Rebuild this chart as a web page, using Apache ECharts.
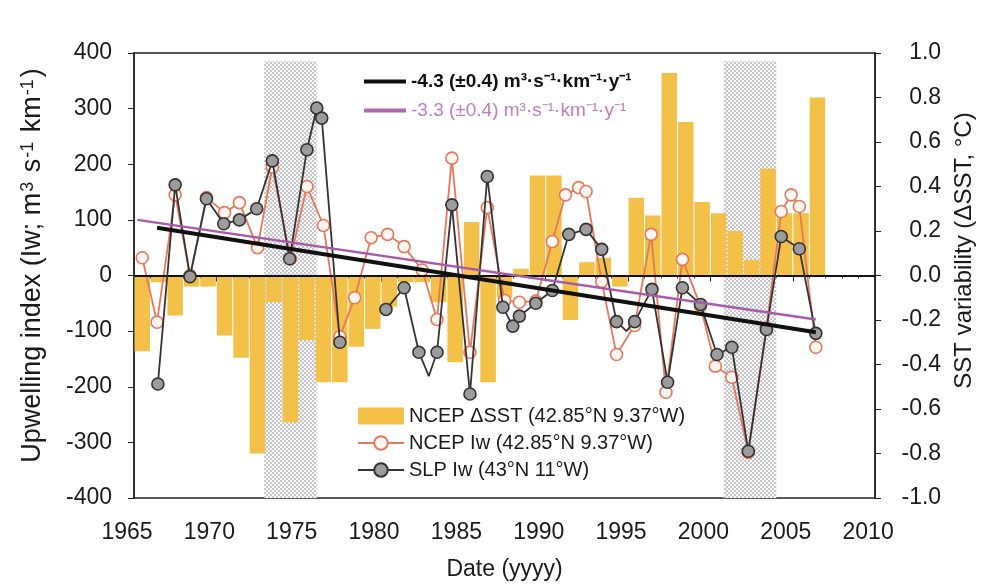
<!DOCTYPE html>
<html><head><meta charset="utf-8">
<script src="https://cdn.jsdelivr.net/npm/echarts@6/dist/echarts.min.js"></script>
<style>html,body{margin:0;padding:0;background:#fff}#c{width:984px;height:586px}</style>
</head><body><div id="c"></div>
<script>
// ---- data ----
const sstYears = [1965.5,1966.5,1967.5,1968.5,1969.5,1970.5,1971.5,1972.5,1973.5,1974.5,1975.5,1976.5,1977.5,1978.5,1979.5,1980.5,1981.5,1982.5,1983.5,1984.5,1985.5,1986.5,1987.5,1988.5,1989.5,1990.5,1991.5,1992.5,1993.5,1994.5,1995.5,1996.5,1997.5,1998.5,1999.5,2000.5,2001.5,2002.5,2003.5,2004.5,2005.5,2006.5];
const sstValues = [-0.34,-0.03,-0.18,-0.05,-0.05,-0.27,-0.37,-0.80,-0.12,-0.66,-0.29,-0.48,-0.48,-0.32,-0.24,-0.14,-0.03,-0.03,-0.12,-0.39,0.24,-0.48,-0.10,0.03,0.45,0.45,-0.20,0.06,0.08,-0.05,0.35,0.27,0.91,0.69,0.33,0.28,0.20,0.07,0.48,0.28,0.28,0.80];

const ncepYears = [1965.5,1966.4,1967.5,1968.4,1969.4,1970.5,1971.4,1972.5,1973.4,1974.5,1975.5,1976.5,1977.5,1978.4,1979.4,1980.4,1981.4,1982.5,1983.4,1984.3,1985.4,1986.45,1987.5,1988.4,1989.4,1990.4,1991.2,1992.0,1992.45,1993.4,1994.3,1995.4,1996.4,1997.3,1998.3,1999.4,2000.3,2001.3,2002.3,2003.4,2004.3,2004.9,2005.4,2006.4];
const ncepValues = [32,-84,145,0,140,113,131,50,195,30,160,90,-110,-40,68,74,52,10,-79,211,-138,122,-45,-48,-46,61,145,158,151,-11,-142,-90,74,-210,29,-55,-163,-183,-318,-95,115,145,124,-129];

const slpYears = [1966.45,1967.5,1968.4,1969.4,1970.45,1971.4,1972.45,1973.4,1974.45,1975.5,1976.1,1976.4,1977.5,1979.0,1980.3,1981.4,1982.3,1982.9,1983.4,1984.3,1985.4,1986.45,1987.4,1988.0,1988.4,1989.4,1990.4,1991.4,1992.45,1993.4,1994.3,1994.9,1995.4,1996.45,1997.4,1998.3,1999.4,2000.4,2001.3,2002.3,2003.4,2004.3,2005.4,2006.4];
const slpValues = [-195,163,-2,138,93,100,120,206,30,226,301,283,-120,null,-61,-22,-138,-181,-138,127,-213,178,-57,-91,-73,-50,-27,74,83,47,-83,-100,-83,-25,-192,-22,-52,-142,-129,-316,-97,70,48,-104];
const slpMarker = [1,1,1,1,1,1,1,1,1,1,1,1,1,0,1,1,1,0,1,1,1,1,1,1,1,1,1,1,1,1,1,0,1,1,1,1,1,1,1,1,1,1,1,1];

const trendSlpX = [1966.4, 2006.4];
const trendSlpY = [86, -102];
const trendNcepX = [1965.2, 2006.4];
const trendNcepY = [100, -79];

const shadeRanges = [[1972.9, 1976.1], [2000.8, 2004.0]];

const xMin = 1965, xMax = 2010, xStep = 5;
const yLeftMin = -400, yLeftMax = 400, yLeftStep = 100;
const yRightMin = -1, yRightMax = 1, yRightStep = 0.2;

const nameSst = 'NCEP \u0394SST (42.85\u00b0N 9.37\u00b0W)';
const nameNcep = 'NCEP Iw (42.85\u00b0N 9.37\u00b0W)';
const nameSlp = 'SLP Iw (43\u00b0N 11\u00b0W)';
const nameTrendSlp = '-4.3 (\u00b10.4) m\u00b3\u00b7s\u207b\u00b9\u00b7km\u207b\u00b9\u00b7y\u207b\u00b9';
const nameTrendNcep = '-3.3 (\u00b10.4) m\u00b3\u00b7s\u207b\u00b9\u00b7km\u207b\u00b9\u00b7y\u207b\u00b9';

// ---- styles ----
function makeHatch() {
  const c = document.createElement('canvas');
  c.width = 4; c.height = 4;
  const g = c.getContext('2d');
  g.fillStyle = '#f8f8f8'; g.fillRect(0, 0, 4, 4);
  g.fillStyle = '#c6c6ca';
  g.fillRect(0, 0, 2, 2); g.fillRect(2, 2, 2, 2);
  return c;
}
const hatch = { image: makeHatch(), repeat: 'repeat' };
const FONT = 'Liberation Sans, Arial, sans-serif';
const tick = { fontFamily: FONT, fontSize: 23, color: '#1a1a1a' };

const chart = echarts.init(document.getElementById('c'), null, { renderer: 'canvas' });
chart.setOption({
  animation: false,
  backgroundColor: '#fff',
  grid: { left: 134, right: 107, top: 53, bottom: 87, show: true, borderColor: '#222', borderWidth: 1.5, backgroundColor: 'transparent' },
  legend: [
    { data: [{ name: nameTrendSlp, textStyle: { color: '#111', fontWeight: 'bold' } }, { name: nameTrendNcep, textStyle: { color: '#c07cc0' } }],
      icon: 'rect', left: 359, top: 67, orient: 'vertical', itemWidth: 42, itemHeight: 4, itemGap: 10, selectedMode: false,
      textStyle: { fontFamily: FONT, fontSize: 19 } },
    { data: [{ name: nameSst, icon: 'rect' }, nameNcep, nameSlp],
      left: 352, top: 401, orient: 'vertical', itemWidth: 46, itemHeight: 17, itemGap: 7, selectedMode: false,
      textStyle: { fontFamily: FONT, fontSize: 20, color: '#1a1a1a' } }
  ],
  xAxis: {
    type: 'value', min: xMin, max: xMax, interval: xStep,
    name: 'Date (yyyy)', nameLocation: 'middle', nameGap: 60,
    nameTextStyle: { fontFamily: FONT, fontSize: 23, color: '#1a1a1a' },
    axisLine: { lineStyle: { color: '#222', width: 1.5 } },
    axisTick: { length: 6, lineStyle: { color: '#222' } },
    minorTick: { show: true, splitNumber: 5, length: 3, lineStyle: { color: '#333' } },
    axisLabel: Object.assign({ margin: 23, padding: [0, 14, 0, 0], formatter: v => String(v) }, tick),
    splitLine: { show: false }
  },
  yAxis: [
    { type: 'value', min: yLeftMin, max: yLeftMax, interval: yLeftStep,
      name: 'Upwelling index (Iw; m{sup|3} s{sup|-1} km{sup|-1})', nameLocation: 'middle', nameRotate: 90, nameGap: 88,
      nameTextStyle: { fontFamily: FONT, fontSize: 27, color: '#1a1a1a', padding: [0, 0, 0, 20],
        rich: { sup: { fontFamily: FONT, fontSize: 18, color: '#1a1a1a', verticalAlign: 'top', padding: [0, 2, 0, 1] } } },
      axisLine: { show: true, lineStyle: { color: '#222', width: 1.5 } },
      axisTick: { show: true, length: 6, lineStyle: { color: '#222' } },
      axisLabel: Object.assign({ margin: 22 }, tick),
      splitLine: { show: false } },
    { type: 'value', min: yRightMin, max: yRightMax, interval: yRightStep, position: 'right',
      name: 'SST variability (\u0394SST, \u00b0C)', nameLocation: 'middle', nameRotate: 90, nameGap: 72,
      nameTextStyle: { fontFamily: FONT, fontSize: 24, color: '#1a1a1a', padding: [0, 0, 0, 50] },
      axisLine: { show: true, lineStyle: { color: '#222', width: 1.5 } },
      axisTick: { show: true, length: 6, lineStyle: { color: '#222' } },
      axisLabel: Object.assign({ margin: 66, align: 'right', formatter: v => v.toFixed(1) }, tick),
      splitLine: { show: false } }
  ],
  series: [
    { type: 'line', name: 'shade', data: [], z: 1, silent: true,
      markArea: { silent: true, itemStyle: { color: hatch },
        data: shadeRanges.map(r => [{ xAxis: r[0], yAxis: 385 }, { xAxis: r[1], yAxis: -400 }]) } },
    { type: 'bar', name: nameSst, yAxisIndex: 1, z: 2, barWidth: '94%',
      itemStyle: { color: '#f3c048' },
      data: sstYears.map((x, i) => [x, sstValues[i]]) },
    { type: 'line', name: 'zero', data: [], z: 3, silent: true,
      markLine: { silent: true, symbol: 'none', label: { show: false },
        lineStyle: { color: '#111', width: 2, type: 'solid' }, data: [{ yAxis: 0 }] } },
    { type: 'line', name: nameNcep, z: 4, symbol: 'circle', symbolSize: 12,
      lineStyle: { color: '#e5785a', width: 1.8 },
      itemStyle: { color: '#fff6f2', borderColor: '#e5785a', borderWidth: 1.6 },
      data: ncepYears.map((x, i) => [x, ncepValues[i]]) },
    { type: 'line', name: nameSlp, z: 5, symbol: 'circle', symbolSize: 12, connectNulls: false,
      lineStyle: { color: '#333', width: 1.8 },
      itemStyle: { color: '#9c9c9c', borderColor: '#333', borderWidth: 1.6 },
      data: slpYears.map((x, i) => slpMarker[i] ? [x, slpValues[i] === null ? '-' : slpValues[i]]
                                                : { value: [x, slpValues[i] === null ? '-' : slpValues[i]], symbol: 'none' }) },
    { type: 'line', name: nameTrendNcep, z: 6, symbol: 'none',
      lineStyle: { color: '#a85aa8', width: 2.5 }, itemStyle: { color: '#b068b0' },
      data: trendNcepX.map((x, i) => [x, trendNcepY[i]]) },
    { type: 'line', name: nameTrendSlp, z: 7, symbol: 'none',
      lineStyle: { color: '#111', width: 4 }, itemStyle: { color: '#111' },
      data: trendSlpX.map((x, i) => [x, trendSlpY[i]]) }
  ]
});
</script></body></html>
